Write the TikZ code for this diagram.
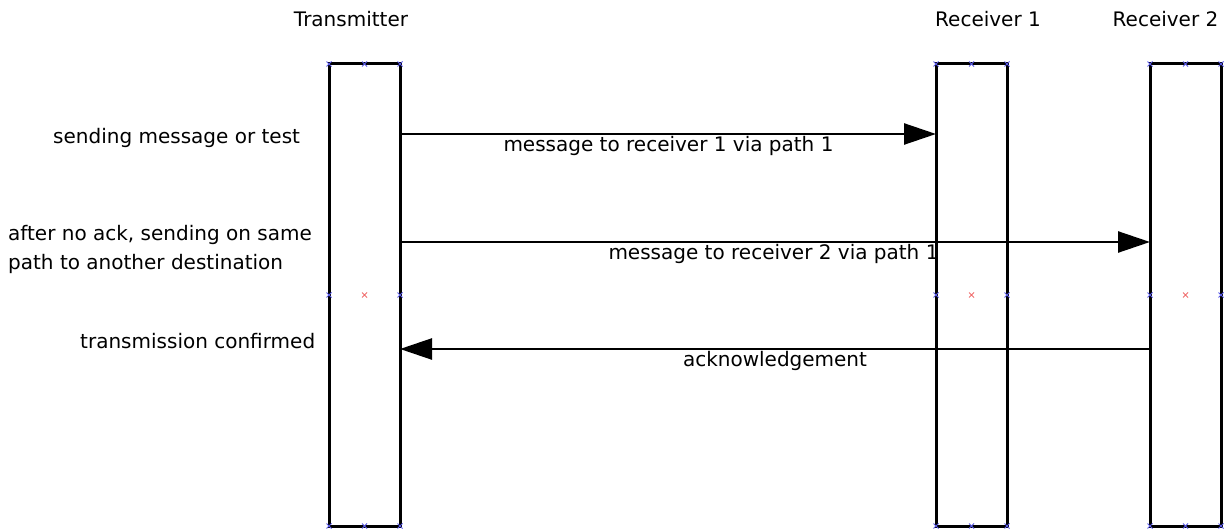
\documentclass[tikz,border=0pt]{standalone}
\usepackage{fontspec}
\setmainfont{DejaVu Sans}
\usepackage{xcolor}
\usetikzlibrary{arrows.meta}

\definecolor{markblue}{RGB}{90,90,230}
\definecolor{markred}{RGB}{240,110,110}

\tikzset{
  lifebox/.style={draw=black, line width=3pt, minimum width=71pt, minimum height=462pt, inner sep=0pt, outer sep=0pt},
  msg/.style={line width=2.5pt, -{Triangle[length=32pt, width=21pt]}},
  txt/.style={inner sep=0pt, font=\fontsize{20}{29}\selectfont},
  anchormark/.style={line width=1pt},
}

\begin{document}
\begin{tikzpicture}[x=1pt, y=-1pt]
\useasboundingbox (0,0) rectangle (1231,529);

% Titluri
\node[txt, anchor=base] (ttx) at (351,27) {Transmitter};
\node[txt, anchor=base] (trx1) at (988,27) {Receiver 1};
\node[txt, anchor=base] (trx2) at (1165.5,27) {Receiver 2};

% Casete (linii de viata)
\node[lifebox] (tx) at (364.5,295) {};
\node[lifebox] (rx1) at (971.5,295) {};
\node[lifebox] (rx2) at (1185.5,295) {};

% Marcaje ancore
\foreach \b in {tx, rx1, rx2} {
  \foreach \a in {north west, north, north east, east, south east, south, south west, west}
    \draw[anchormark, markblue] (\b.\a) +(-2.5,-2.5) -- +(2.5,2.5) +(-2.5,2.5) -- +(2.5,-2.5);
  \draw[anchormark, markred] (\b.center) +(-2.5,-2.5) -- +(2.5,2.5) +(-2.5,2.5) -- +(2.5,-2.5);
}

% Nivelurile mesajelor
\coordinate (m1) at (0,134);
\coordinate (m2) at (0,242);
\coordinate (m3) at (0,349);

% Mesaje
\draw[msg] (tx.east |- m1) -- (rx1.west |- m1);
\draw[msg] (tx.east |- m2) -- (rx2.west |- m2);
\draw[msg] (rx2.west |- m3) -- (tx.east |- m3);

% Etichete mesaje
\node[txt, anchor=base] (l1) at (668.5,152) {message to receiver 1 via path 1};
\node[txt, anchor=base] (l2) at (773.5,260) {message to receiver 2 via path 1};
\node[txt, anchor=base] (l3) at (775,366) {acknowledgement};

% Comentarii din stanga
\node[txt, anchor=base west] (c1) at (53,144) {sending message or test};
\node[txt, anchor=base west] (c2a) at (8,241) {after no ack, sending on same};
\node[txt, anchor=base west] (c2b) at (8,270) {path to another destination};
\node[txt, anchor=base west] (c3) at (80,348) {transmission confirmed};

\end{tikzpicture}
\end{document}
